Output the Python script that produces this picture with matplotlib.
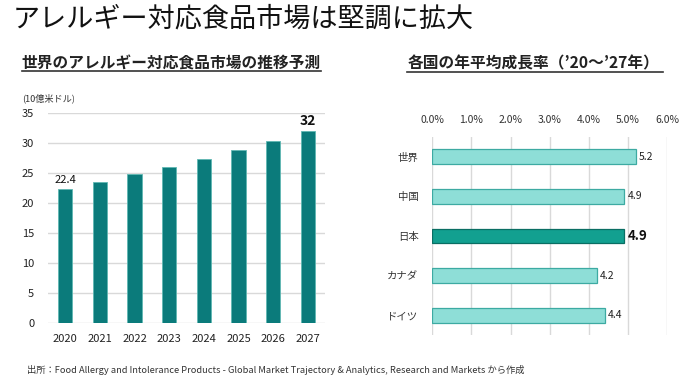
import matplotlib.pyplot as plt
from matplotlib.lines import Line2D

plt.rcParams['font.family'] = ['Noto Sans CJK JP', 'DejaVu Sans']

# data
years = ['2020', '2021', '2022', '2023', '2024', '2025', '2026', '2027']
market = [22.4, 23.6, 24.8, 26.1, 27.4, 28.9, 30.4, 32.0]
countries = ['世界', '中国', '日本', 'カナダ', 'ドイツ']
growth = [5.2, 4.9, 4.9, 4.2, 4.4]
growth_labels = ['5.2', '4.9', '4.9', '4.2', '4.4']
pct_ticks = [0, 1, 2, 3, 4, 5, 6]

fig = plt.figure(figsize=(7, 3.81), dpi=100)

fig.text(0.018, 0.950, 'アレルギー対応食品市場は堅調に拡大', fontsize=19.5,
         va='center', ha='left', color='#111111')

# subtitles with underline
fig.text(0.031, 0.834, '世界のアレルギー対応食品市場の推移予測', fontsize=11.3,
         fontweight='bold', va='center', ha='left', color='#222222')
fig.add_artist(Line2D([0.031, 0.459], [0.814, 0.814], color='#333333', lw=1.2))
fig.text(0.583, 0.834, '各国の年平均成長率（’20～’27年）', fontsize=11.3,
         fontweight='bold', va='center', ha='left', color='#222222')
fig.add_artist(Line2D([0.582, 0.947], [0.812, 0.812], color='#333333', lw=1.2))

fig.text(0.032, 0.743, '(10億米ドル)', fontsize=6.6, va='center', ha='left',
         color='#333333')

fig.text(0.038, 0.029,
         '出所：Food Allergy and Intolerance Products - Global Market Trajectory & Analytics, '
         'Research and Markets から作成',
         fontsize=6.7, va='center', ha='left', color='#333333')

# left bar chart
ax1 = fig.add_axes([0.0686, 0.153, 0.3957, 0.5496])
x = range(len(years))
ax1.bar(x, market, width=0.41, color='#0B7B7B', edgecolor='#5FB8B3',
        linewidth=0.6, zorder=3)
ax1.set_xlim(-0.5, 7.5)
ax1.set_ylim(0, 35)
ax1.set_yticks(range(0, 36, 5))
ax1.set_xticks(list(x))
ax1.set_xticklabels(years)
ax1.grid(axis='y', color='#D9D9D9', lw=1, zorder=0)
for s in ax1.spines.values():
    s.set_visible(False)
ax1.tick_params(length=0, labelsize=8, colors='#222222')
ax1.tick_params(axis='y', pad=10)
ax1.tick_params(axis='x', pad=8)
ax1.text(0, market[0] + 0.6, '22.4', ha='center', va='bottom', fontsize=8,
         color='#111111')
ax1.text(7, market[-1] + 0.6, '32', ha='center', va='bottom', fontsize=10,
         fontweight='bold', color='#111111')

# right horizontal bars
ax2 = fig.add_axes([0.6176, 0.1207, 0.3357, 0.5197])
yy = range(len(countries))
faces = ['#8EDED7' if c != '日本' else '#12A090' for c in countries]
edges = ['#3DAAA2' if c != '日本' else '#0A6E63' for c in countries]
ax2.barh(yy, growth, height=0.37, color=faces, edgecolor=edges, linewidth=0.9,
         zorder=3)
ax2.set_xlim(0, 6)
ax2.set_ylim(4.5, -0.5)
ax2.set_yticks(list(yy))
ax2.set_yticklabels(countries)
ax2.set_xticks(pct_ticks)
ax2.set_xticklabels(['%.1f%%' % t for t in pct_ticks])
ax2.xaxis.tick_top()
ax2.grid(axis='x', color='#D9D9D9', lw=1, zorder=0)
for s in ax2.spines.values():
    s.set_visible(False)
ax2.tick_params(length=0, labelsize=7.5, colors='#333333')
ax2.tick_params(axis='x', pad=9)
ax2.tick_params(axis='y', pad=10)
for i, (v, lab) in enumerate(zip(growth, growth_labels)):
    if countries[i] == '日本':
        ax2.text(v + 0.08, i, lab, va='center', ha='left', fontsize=9.5,
                 fontweight='bold', color='#111111')
    else:
        ax2.text(v + 0.08, i, lab, va='center', ha='left', fontsize=7.5,
                 color='#222222')

fig.savefig('out.png', dpi=100)
